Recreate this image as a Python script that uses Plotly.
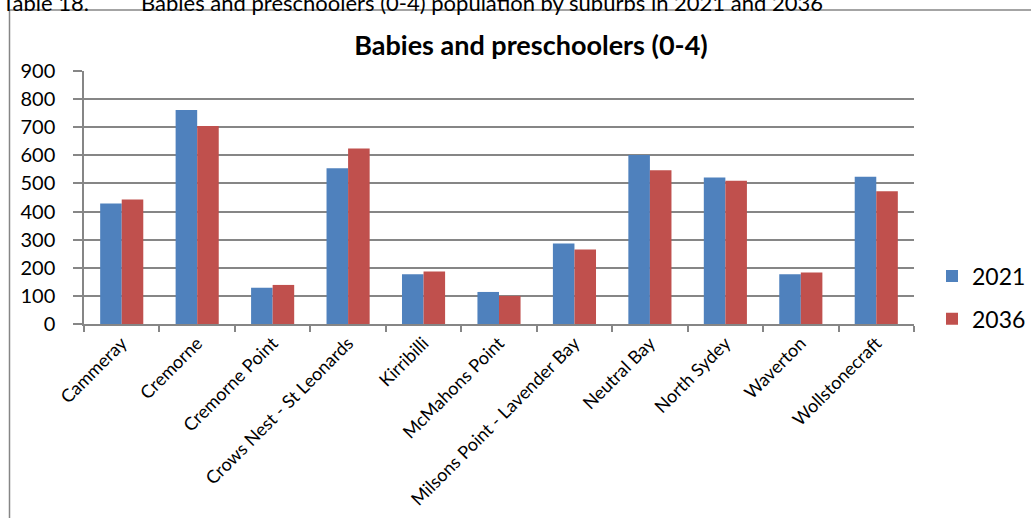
import plotly.graph_objects as go

# Suburb categories and projected population of 0-4 year olds
suburbs = [
    "Cammeray",
    "Cremorne",
    "Cremorne Point",
    "Crows Nest - St Leonards",
    "Kirribilli",
    "McMahons Point",
    "Milsons Point - Lavender Bay",
    "Neutral Bay",
    "North Sydey",
    "Waverton",
    "Wollstonecraft",
]
pop_2021 = [429, 761, 129, 554, 177, 114, 286, 601, 521, 177, 524]
pop_2036 = [443, 704, 139, 624, 187, 100, 265, 547, 510, 183, 472]

y_ticks = [0, 100, 200, 300, 400, 500, 600, 700, 800, 900]

FONT = "Lato"
GRID = "#868686"
W, H = 1031, 518
L, R, T, B = 84, 117, 71, 194
PW, PH = W - L - R, H - T - B


def px_x(p):
    return (p - L) / PW


def px_y(p):
    return 1 - (p - T) / PH


fig = go.Figure()
fig.add_trace(go.Bar(
    name="2021", x=suburbs, y=pop_2021,
    marker=dict(color="#4F81BD", line=dict(width=0)),
    legendgroup="a",
))
fig.add_trace(go.Bar(
    name="2036", x=suburbs, y=pop_2036,
    marker=dict(color="#C0504D", line=dict(width=0)),
    legendgroup="b",
))

fig.update_layout(
    width=W, height=H,
    margin=dict(l=L, r=R, t=T, b=B, pad=0, autoexpand=False),
    paper_bgcolor="white", plot_bgcolor="white",
    barmode="group", bargap=0.4286, bargroupgap=0,
    font=dict(family=FONT, color="black"),
    title=dict(
        text="<b>Babies and preschoolers (0-4)</b>",
        x=531 / W, xanchor="center",
        y=1 - 46 / H, yanchor="middle",
        font=dict(family=FONT, size=27, color="black"),
    ),
    showlegend=True,
    legend=dict(
        x=px_x(932), xanchor="left",
        y=px_y(254.5), yanchor="top",
        traceorder="grouped", tracegroupgap=10,
        font=dict(family=FONT, size=23, color="black"),
        bgcolor="rgba(0,0,0,0)", borderwidth=0,
    ),
    xaxis=dict(
        type="category",
        automargin=False,
        tickson="boundaries",
        ticks="outside", ticklen=6, tickwidth=1.5, tickcolor=GRID,
        showline=True, linecolor=GRID, linewidth=1.5,
        showgrid=False,
        tickangle=-45,
        tickfont=dict(family=FONT, size=18, color="black"),
    ),
    yaxis=dict(
        range=[0, 900],
        automargin=False,
        tickvals=y_ticks,
        ticks="outside", ticklen=9, tickwidth=1.5, tickcolor=GRID,
        showline=True, linecolor=GRID, linewidth=1.5,
        showgrid=True, gridcolor=GRID, gridwidth=1.5,
        zeroline=False,
        ticklabelstandoff=14,
        tickfont=dict(family=FONT, size=20, color="black"),
    ),
)

# Chart frame, partly running past the page edge
fig.add_shape(
    type="rect", xref="paper", yref="paper",
    x0=px_x(9.5), x1=px_x(1080), y0=px_y(600), y1=px_y(10),
    line=dict(color=GRID, width=1.5), fillcolor="rgba(0,0,0,0)",
    layer="below",
)

# Table caption above the frame, cut by the top edge
cap_y = px_y(2)
fig.add_annotation(
    text="Table 18.", xref="paper", yref="paper",
    x=px_x(0), xanchor="left", y=cap_y, yanchor="middle",
    showarrow=False, font=dict(family=FONT, size=22, color="black"),
)
fig.add_annotation(
    text="Babies and preschoolers (0-4) population by suburbs in 2021 and 2036",
    xref="paper", yref="paper",
    x=px_x(139), xanchor="left", y=cap_y, yanchor="middle",
    showarrow=False, font=dict(family=FONT, size=22, color="black"),
)

fig.write_html("out.html")
